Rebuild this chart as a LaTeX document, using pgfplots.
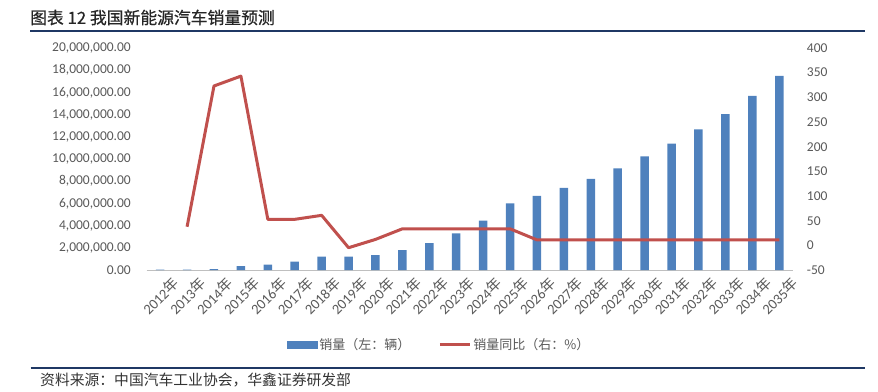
\documentclass[border=0pt]{standalone}
\usepackage{fontspec}
\setmainfont{Carlito}
\newfontfamily\cjk{Noto Sans CJK SC}
\newfontfamily\cjktitle[FakeBold=0.6]{Noto Sans CJK SC}
\usepackage{pgfplots}
\pgfplotsset{compat=1.18}
\definecolor{barblue}{HTML}{4F81BD}
\definecolor{linered}{HTML}{C0504D}
\definecolor{navy}{HTML}{1F3864}
\definecolor{labgray}{HTML}{595959}
\definecolor{axgray}{HTML}{BFBFBF}
\begin{document}
\begin{tikzpicture}[x=1pt,y=1pt]
\useasboundingbox (0,0) rectangle (878,391);
\node[anchor=west, inner sep=0pt, font=\cjktitle\fontsize{16.8}{18}\selectfont, text=black!85] at (30,373.5) {图表 12 我国新能源汽车销量预测};
\draw[navy, line width=2pt] (30,360) -- (865,360);
\draw[navy, line width=2pt] (30.7,22.7) -- (865,22.7);
\node[anchor=west, inner sep=0pt, font=\cjk\fontsize{14.8}{16}\selectfont, text=black!80] at (40,11) {资料来源：中国汽车工业协会，华鑫证券研发部};

\begin{axis}[
  at={(146.7pt,121pt)}, anchor=south west, scale only axis,
  width=646pt, height=222pt,
  xmin=-0.5, xmax=23.5, ymin=0, ymax=20000000,
  axis x line*=bottom, axis y line*=left,
  x axis line style={axgray, line width=1pt, -},
  y axis line style={draw=none},
  major tick length=0pt,
  xtick={0,...,23},
  xticklabels={{2012{\cjk 年}},{2013{\cjk 年}},{2014{\cjk 年}},{2015{\cjk 年}},{2016{\cjk 年}},{2017{\cjk 年}},{2018{\cjk 年}},{2019{\cjk 年}},{2020{\cjk 年}},{2021{\cjk 年}},{2022{\cjk 年}},{2023{\cjk 年}},{2024{\cjk 年}},{2025{\cjk 年}},{2026{\cjk 年}},{2027{\cjk 年}},{2028{\cjk 年}},{2029{\cjk 年}},{2030{\cjk 年}},{2031{\cjk 年}},{2032{\cjk 年}},{2033{\cjk 年}},{2034{\cjk 年}},{2035{\cjk 年}}},
  xticklabel style={rotate=45, anchor=north east, inner sep=0pt, yshift=-12pt, xshift=4pt, font=\fontsize{14.5}{16}\selectfont, text=labgray},
  ytick={0,2000000,...,20000000},
  scaled y ticks=false,
  yticklabel style={/pgf/number format/.cd, fixed, fixed zerofill, precision=2, 1000 sep={,}, assume math mode=true, /tikz/.cd, font=\fontsize{13.5}{15}\selectfont, text=labgray, inner sep=0pt, xshift=-15.7pt},
]
\addplot[ybar, bar width=8.5pt, fill=barblue, draw=none] coordinates {
(0,30000) (1,40000) (2,74800) (3,360000) (4,480000) (5,750000) (6,1200000) (7,1200000)
(8,1350000) (9,1800000) (10,2430000) (11,3300000) (12,4440000) (13,6000000) (14,6670000)
(15,7390000) (16,8200000) (17,9160000) (18,10240000) (19,11380000) (20,12670000)
(21,14050000) (22,15680000) (23,17480000)};
\end{axis}

\begin{axis}[
  at={(146.7pt,121pt)}, anchor=south west, scale only axis,
  width=646pt, height=222pt,
  xmin=-0.5, xmax=23.5, ymin=-50, ymax=400,
  axis y line*=right, axis x line=none,
  y axis line style={draw=none},
  major tick length=0pt,
  ytick={-50,0,...,400},
  yticklabel style={/pgf/number format/assume math mode=true, font=\fontsize{13.5}{15}\selectfont, text=labgray, inner sep=0pt, xshift=14pt},
  legend style={at={(0.2167,-0.3378)}, anchor=west, draw=none, inner sep=0pt, legend columns=2,
    font=\cjk\fontsize{13}{15}\selectfont, text=labgray,
    nodes={inner xsep=2pt, inner ysep=0pt},
    /tikz/every even column/.append style={column sep=26pt}},
  legend cell align=left,
]
\addlegendimage{legend image code/.code={\fill[barblue] (0pt,-3.5pt) rectangle (30pt,3.5pt);}}
\addlegendentry{销量（左：辆）}
\addplot[linered, line width=3pt, line join=round, legend image code/.code={\draw[linered, line width=3pt] (0pt,0pt) -- (30pt,0pt);}] coordinates {
(1,37.7) (2,323) (3,343) (4,52.7) (5,52.7) (6,60.8) (7,-4.8) (8,12) (9,33.5) (10,33.5)
(11,33.5) (12,33.5) (13,33.5) (14,11) (15,11) (16,11) (17,11) (18,11) (19,11) (20,11)
(21,11) (22,11) (23,11)};
\addlegendentry{销量同比（右：\%）}
\end{axis}
\end{tikzpicture}
\end{document}
